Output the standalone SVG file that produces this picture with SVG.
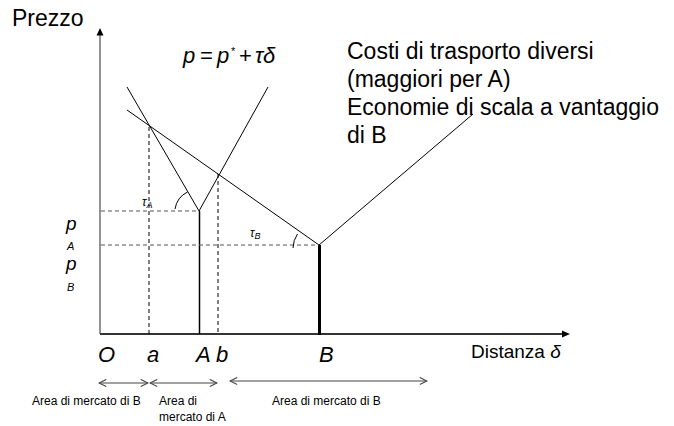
<svg xmlns="http://www.w3.org/2000/svg" width="674" height="426" viewBox="0 0 674 426">
<defs>
<marker id="open" viewBox="0 0 10 10" refX="9" refY="5" markerWidth="9" markerHeight="9" markerUnits="userSpaceOnUse" orient="auto-start-reverse">
<path d="M1,1 L9,5 L1,9" fill="none" stroke="#444" stroke-width="1.2"/>
</marker>
</defs>
<style>
text{font-family:"Liberation Sans",Arial,sans-serif;fill:#000}
.it{font-style:italic}
.ln{stroke:#000;stroke-width:1;fill:none}
.dv{stroke:#000;stroke-width:1;stroke-dasharray:4 3;fill:none}
.dh{stroke:#555;stroke-width:1.2;stroke-dasharray:4 3;fill:none}
.dbl{stroke:#444;stroke-width:1;fill:none;marker-start:url(#open);marker-end:url(#open)}
.lbl{font-size:22px}
.sm{font-size:12px}
.big{font-size:23px}
.f{font-size:22px}
</style>
<rect width="674" height="426" fill="#fff"/>
<g id="axes">
<line x1="100" y1="34" x2="100" y2="334" stroke="#888" stroke-width="1.8"/>
<polygon points="100,28 96.5,35.5 103.5,35.5" fill="#000"/>
<line x1="100" y1="334" x2="563" y2="334" stroke="#333" stroke-width="1.8"/>
<polygon points="570,334 562,330.5 562,337.5" fill="#000"/>
<text x="12" y="26" font-size="23">Prezzo</text>
<text x="471" y="358" font-size="19">Distanza <tspan class="it">δ</tspan></text>
</g>
<g id="connectors">
<polyline class="ln" points="127,87 199,211 268,87"/>
<polyline class="ln" points="127,110 319,245 473,114"/>
<line x1="199.5" y1="211" x2="199.5" y2="334" stroke="#000" style="stroke-width:1.5"/>
<line x1="319.5" y1="245" x2="319.5" y2="335" stroke="#000" style="stroke-width:3"/>
<line class="dv" x1="149" y1="127" x2="149" y2="334"/>
<line class="dv" x1="218" y1="174" x2="218" y2="334"/>
<line class="dh" x1="101" y1="211" x2="199" y2="211"/>
<line class="dh" x1="101" y1="245" x2="319" y2="245"/>
<path class="ln" d="M175,209 A23,23 0 0 1 187.5,192"/>
<path class="ln" d="M293,248 A26,26 0 0 1 297.5,234"/>
<line class="dbl" x1="99" y1="383" x2="148" y2="383"/>
<line class="dbl" x1="150" y1="383" x2="217" y2="383"/>
<line class="dbl" x1="230" y1="381" x2="427" y2="381"/>
</g>
<g id="labels">
<text class="it f" x="183" y="63">p</text>
<text class="f" x="200" y="63">=</text>
<text class="it f" x="217" y="63">p</text>
<text x="231" y="55" font-size="11">*</text>
<text class="f" x="239" y="63">+</text>
<text class="it f" x="255" y="63">τδ</text>
<text class="it" x="142" y="206" font-size="12">τ<tspan font-size="9" dy="2">A</tspan></text>
<text class="it" x="250" y="237" font-size="12">τ<tspan font-size="9" dy="2">B</tspan></text>
<text class="it" x="66" y="230" font-size="19">p</text>
<text class="it" x="67" y="250" font-size="11">A</text>
<text class="it" x="66" y="270" font-size="19">p</text>
<text class="it" x="67" y="291" font-size="11">B</text>
<text class="it lbl" x="98" y="362">O</text>
<text class="it lbl" x="147" y="362">a</text>
<text class="it lbl" x="196" y="362">A</text>
<text class="it lbl" x="216" y="362">b</text>
<text class="it lbl" x="319" y="362">B</text>
<text class="big" x="347" y="59">Costi di trasporto diversi</text>
<text class="big" x="347" y="87">(maggiori per A)</text>
<text class="big" x="347" y="115">Economie di scala a vantaggio</text>
<text class="big" x="347" y="143">di B</text>
<text class="sm" x="32" y="405">Area di mercato di B</text>
<text class="sm" x="159" y="405">Area di</text>
<text class="sm" x="159" y="421">mercato di A</text>
<text class="sm" x="272" y="405">Area di mercato di B</text>
</g>
</svg>
